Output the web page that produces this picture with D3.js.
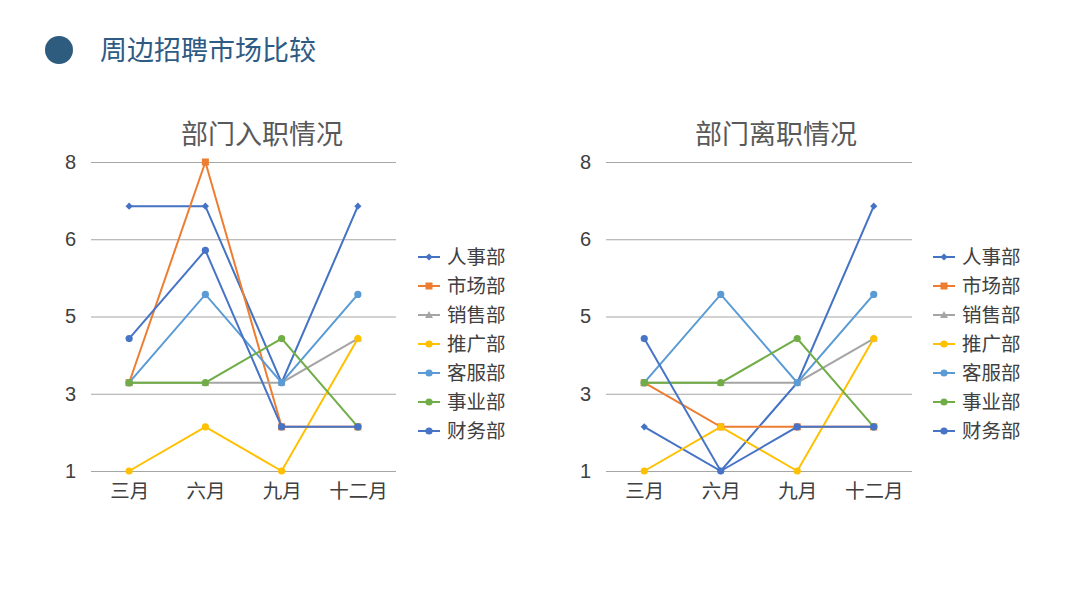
<!DOCTYPE html>
<html><head><meta charset="utf-8">
<script src="https://cdn.jsdelivr.net/npm/d3@7"></script>
<style>
html,body{margin:0;padding:0;background:#fff;}
svg{display:block;font-family:"Noto Sans CJK SC","Noto Sans",sans-serif;}
</style></head>
<body>
<svg id="c" width="1080" height="607"></svg>
<script>
const pageTitle = "周边招聘市场比较";
const categories = ["三月", "六月", "九月", "十二月"];
const seriesNames = ["人事部", "市场部", "销售部", "推广部", "客服部", "事业部", "财务部"];
const seriesColors = ["#4472C4", "#ED7D31", "#A5A5A5", "#FFC000", "#5B9BD5", "#70AD47", "#4774C6"];
const seriesMarkers = ["diamond", "square", "triangle", "circle", "circle", "circle", "circle"];
const yTickValues = [1, 2.75, 4.5, 6.25, 8];
const yTickLabels = ["1", "3", "5", "6", "8"];

const hireTitle = "部门入职情况";
const hireValues = [
  [7, 7, 3, 7],
  [3, 8, 2, 2],
  [3, 3, 3, 4],
  [1, 2, 1, 4],
  [3, 5, 3, 5],
  [3, 3, 4, 2],
  [4, 6, 2, 2]
];
const leaveTitle = "部门离职情况";
const leaveValues = [
  [2, 1, 3, 7],
  [3, 2, 2, 2],
  [3, 3, 3, 4],
  [1, 2, 1, 4],
  [3, 5, 3, 5],
  [3, 3, 4, 2],
  [4, 1, 2, 2]
];

const svg = d3.select("#c");

// page title
svg.append("circle").attr("cx", 59).attr("cy", 50).attr("r", 14).attr("fill", "#2E5C7E");
svg.append("text").attr("x", 100).attr("y", 60).attr("font-size", 27)
  .attr("fill", "#2D5B83").text(pageTitle);

function marker(g, type, x, y, color, s) {
  if (type === "circle") {
    g.append("circle").attr("cx", x).attr("cy", y).attr("r", 3.6 * s).attr("fill", color);
  } else if (type === "square") {
    g.append("rect").attr("x", x - 3.5 * s).attr("y", y - 3.5 * s).attr("width", 7 * s).attr("height", 7 * s).attr("fill", color);
  } else if (type === "diamond") {
    const r = 3.6 * s;
    g.append("path").attr("d", `M${x},${y - r}L${x + r},${y}L${x},${y + r}L${x - r},${y}Z`).attr("fill", color);
  } else if (type === "triangle") {
    const r = 4 * s;
    g.append("path").attr("d", `M${x},${y - r}L${x + r},${y + r * 0.75}L${x - r},${y + r * 0.75}Z`).attr("fill", color);
  }
}

function drawChart(opt) {
  const g = svg.append("g");
  const x = d3.scalePoint().domain(categories).range([opt.left, opt.right]).padding(0.5);
  const y = d3.scaleLinear().domain([1, 8]).range([471, 162]);

  g.append("text").attr("x", opt.titleX).attr("y", 144).attr("text-anchor", "middle")
    .attr("font-size", 27).attr("fill", "#595959").text(opt.title);

  // gridlines
  const yAxis = d3.axisLeft(y).tickValues(yTickValues).tickSize(-(opt.right - opt.left))
    .tickPadding(15).tickFormat((d, i) => yTickLabels[i]);
  const ya = g.append("g").attr("transform", `translate(${opt.left},0)`).call(yAxis);
  ya.select(".domain").remove();
  ya.selectAll(".tick line").attr("stroke", "#A6A6A6").attr("stroke-width", 1.2);
  ya.selectAll(".tick text").attr("font-size", 20).attr("fill", "#404040")
    .attr("font-family", "'Liberation Sans','Noto Sans',sans-serif");

  const xAxis = d3.axisBottom(x).tickSize(0).tickPadding(13);
  const xa = g.append("g").attr("transform", `translate(0,471)`).call(xAxis);
  xa.select(".domain").remove();
  xa.selectAll(".tick text").attr("font-size", 19.5).attr("fill", "#404040")
    .attr("font-family", "'Noto Sans CJK SC',sans-serif");

  const line = d3.line().x((d, i) => x(categories[i])).y(d => y(d));
  opt.values.forEach((vals, si) => {
    g.append("path").attr("d", line(vals)).attr("fill", "none")
      .attr("stroke", seriesColors[si]).attr("stroke-width", 2);
    vals.forEach((v, i) => marker(g, seriesMarkers[si], x(categories[i]), y(v), seriesColors[si], 1));
  });

  // legend
  const lg = g.append("g");
  seriesNames.forEach((name, i) => {
    const ly = 257 + i * 29;
    lg.append("line").attr("x1", opt.legendX).attr("x2", opt.legendX + 22)
      .attr("y1", ly).attr("y2", ly).attr("stroke", seriesColors[i]).attr("stroke-width", 2);
    marker(lg, seriesMarkers[i], opt.legendX + 11, ly, seriesColors[i], 1);
    lg.append("text").attr("x", opt.legendX + 29).attr("y", ly + 7)
      .attr("font-size", 19.5).attr("fill", "#404040").text(name);
  });
}

drawChart({ title: hireTitle, values: hireValues, left: 91, right: 396, titleX: 262, legendX: 418 });
drawChart({ title: leaveTitle, values: leaveValues, left: 606, right: 912, titleX: 776, legendX: 933 });
</script>
</body></html>
